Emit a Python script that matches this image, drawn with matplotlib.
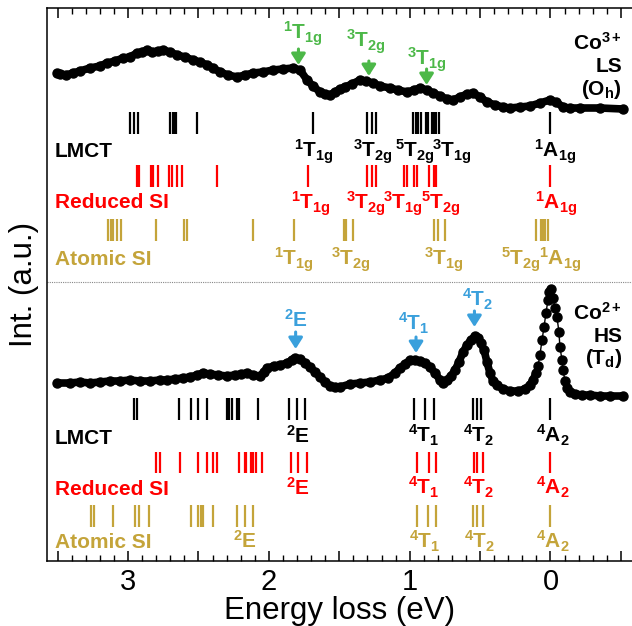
import matplotlib
matplotlib.use("Agg")
import matplotlib.pyplot as plt
import numpy as np
from matplotlib.ticker import MultipleLocator

plt.rcParams['font.family'] = ['Liberation Sans', 'DejaVu Sans']
plt.rcParams['mathtext.fontset'] = 'custom'
plt.rcParams['mathtext.rm'] = 'Liberation Sans'
plt.rcParams['mathtext.bf'] = 'Liberation Sans:bold'
plt.rcParams['mathtext.default'] = 'bf'

# ---------------- data ----------------
# Co3+ LS (Oh) spectrum (energy loss eV, intensity a.u.)
e_top = [3.505, 3.484, 3.441, 3.392, 3.342, 3.271, 3.200, 3.150, 3.093, 3.036,
         2.987, 2.937, 2.901, 2.866, 2.830, 2.788, 2.752, 2.702, 2.652, 2.596,
         2.539, 2.489, 2.439, 2.397, 2.347, 2.290, 2.226, 2.170, 2.113, 2.042,
         1.971, 1.900, 1.829, 1.779, 1.729, 1.687, 1.637, 1.602, 1.566, 1.531,
         1.495, 1.460, 1.410, 1.353, 1.310, 1.261, 1.211, 1.140, 1.083, 1.019,
         0.969, 0.927, 0.877, 0.834, 0.785, 0.735, 0.692, 0.643, 0.593, 0.550,
         0.500, 0.451, 0.394, 0.337, 0.288, 0.217, 0.146, 0.075, 0.004, -0.039,
         -0.089, -0.138, -0.209, -0.351, -0.515]
i_top = [488, 487, 486, 488, 490, 493, 495, 498, 500, 503,
         504, 508, 509, 511, 509, 510, 511, 509, 506, 504,
         501, 499, 496, 493, 489, 486, 484, 486, 488, 489,
         491, 492, 493, 491, 481, 475, 469, 467, 466, 469,
         472, 474, 477, 481, 480, 478, 475, 473, 471, 469,
         471, 473, 471, 468, 465, 462, 461, 464, 467, 468,
         464, 459, 456, 454, 453, 454, 455, 458, 461, 459,
         454, 453, 453, 453, 452]

# Co2+ HS (Td) spectrum
e_bot = [3.505, 3.413, 3.342, 3.271, 3.200, 3.129, 3.058, 2.987, 2.916, 2.845,
         2.774, 2.724, 2.667, 2.610, 2.560, 2.511, 2.468, 2.418, 2.362, 2.298,
         2.241, 2.198, 2.156, 2.113, 2.063, 2.035, 2.013, 1.964, 1.921, 1.871,
         1.836, 1.815, 1.779, 1.744, 1.708, 1.673, 1.637, 1.602, 1.566, 1.531,
         1.495, 1.424, 1.353, 1.282, 1.211, 1.154, 1.104, 1.069, 1.033, 0.998,
         0.962, 0.927, 0.891, 0.856, 0.820, 0.785, 0.764, 0.735, 0.707, 0.678,
         0.650, 0.621, 0.593, 0.565, 0.536, 0.515, 0.494, 0.472, 0.451, 0.430,
         0.408, 0.380, 0.337, 0.288, 0.231, 0.181, 0.146, 0.124, 0.103, 0.089,
         0.075, 0.060, 0.046, 0.032, 0.018, 0.011, -0.004, -0.018, -0.032, -0.046,
         -0.060, -0.067, -0.082, -0.089, -0.103, -0.117, -0.138, -0.174, -0.224, -0.281,
         -0.352, -0.423, -0.515]
i_bot = [178, 178, 179, 178, 179, 180, 180, 181, 180, 180,
         181, 181, 182, 183, 184, 186, 188, 187, 186, 185,
         186, 187, 188, 186, 185, 189, 193, 195, 196, 198,
         201, 203, 202, 198, 194, 189, 184, 179, 175, 174,
         174, 177, 178, 179, 181, 183, 188, 193, 197, 201,
         201, 200, 198, 194, 188, 181, 178, 181, 185, 191,
         199, 209, 216, 221, 225, 223, 218, 211, 199, 188,
         180, 176, 172, 170, 170, 172, 176, 181, 188, 195,
         206, 221, 234, 248, 261, 269, 272, 263, 253, 244,
         229, 214, 201, 191, 180, 173, 169, 167, 166, 166,
         165, 165, 165]

# Calculated transition energies (eV)
top_lmct = [2.99, 2.96, 2.93, 2.70, 2.68, 2.67, 2.66, 2.51, 1.69, 1.30, 1.27, 1.24,
            0.98, 0.955, 0.94, 0.92, 0.885, 0.87, 0.84, 0.83, 0.81, 0.79, 0.0]
top_red = [2.94, 2.92, 2.84, 2.82, 2.79, 2.71, 2.69, 2.65, 2.62, 2.37, 1.72,
           1.30, 1.27, 1.24, 1.04, 1.02, 0.97, 0.95, 0.86, 0.83, 0.82, 0.81, 0.0]
top_atom = [3.14, 3.12, 3.11, 3.08, 3.05, 2.80, 2.60, 2.58, 2.11, 1.82,
            1.47, 1.45, 1.40, 0.83, 0.80, 0.75, 0.10, 0.07, 0.05, 0.04, 0.02]
bot_lmct = [2.96, 2.94, 2.64, 2.55, 2.50, 2.44, 2.30, 2.28, 2.26, 2.23, 2.21, 2.08,
            1.86, 1.80, 1.74, 0.97, 0.89, 0.83, 0.55, 0.52, 0.49, 0.0]
bot_red = [2.80, 2.77, 2.63, 2.50, 2.44, 2.40, 2.37, 2.21, 2.17, 2.16, 2.13, 2.11,
           2.09, 2.05, 1.84, 1.79, 1.73, 0.95, 0.86, 0.81, 0.54, 0.52, 0.48, 0.0]
bot_atom = [3.26, 3.24, 3.11, 2.95, 2.92, 2.85, 2.55, 2.50, 2.48, 2.47, 2.40,
            2.23, 2.17, 2.11, 0.95, 0.87, 0.81, 0.55, 0.52, 0.48, 0.0]

# Term labels (text, energy of label centre)
top_lmct_terms = [("^{1}T_{1g}", 1.68), ("^{3}T_{2g}", 1.26), ("^{5}T_{2g}", 0.96),
                  ("^{3}T_{1g}", 0.70), ("^{1}A_{1g}", -0.03)]
top_red_terms = [("^{1}T_{1g}", 1.70), ("^{3}T_{2g}", 1.31), ("^{3}T_{1g}", 1.05),
                 ("^{5}T_{2g}", 0.78), ("^{1}A_{1g}", -0.04)]
top_atom_terms = [("^{1}T_{1g}", 1.82), ("^{3}T_{2g}", 1.42), ("^{3}T_{1g}", 0.76),
                  ("^{5}T_{2g}", 0.21), ("^{1}A_{1g}", -0.07)]
bot_lmct_terms = [("^{2}E", 1.79), ("^{4}T_{1}", 0.90), ("^{4}T_{2}", 0.51), ("^{4}A_{2}", -0.02)]
bot_red_terms = [("^{2}E", 1.79), ("^{4}T_{1}", 0.90), ("^{4}T_{2}", 0.51), ("^{4}A_{2}", -0.02)]
bot_atom_terms = [("^{2}E", 2.17), ("^{4}T_{1}", 0.89), ("^{4}T_{2}", 0.50), ("^{4}A_{2}", -0.02)]

# Experimental peak assignments (text, label energy, arrow energy)
top_peaks = [("^{1}T_{1g}", 1.76, 1.79), ("^{3}T_{2g}", 1.31, 1.29), ("^{3}T_{1g}", 0.88, 0.88)]
bot_peaks = [("^{2}E", 1.81, 1.81), ("^{4}T_{1}", 0.97, 0.955), ("^{4}T_{2}", 0.52, 0.54)]

# ---------------- style ----------------
BLACK = '#000000'
RED = '#ff0000'
GOLD = '#c4a43a'
GREEN = '#4cb848'
BLUE = '#3aa0dc'

fig = plt.figure(figsize=(6.32, 6.26), dpi=100)
ax = fig.add_axes([47 / 632, 65 / 626, 1 - 47 / 632, 553 / 626])
ax.set_xlim(3.576, -0.579)
ax.set_ylim(0, 553)

# spectra: dense dots merge into a thick trace; sharp elastic peak keeps separate dots
et, it = np.array(e_top), np.array(i_top)
ax.plot(et, it, color='black', lw=5.5, solid_capstyle='round', solid_joinstyle='round', zorder=3)
ax.plot(et, it, color='black', lw=0, marker='o', ms=6.5, zorder=3)

eb, ib = np.array(e_bot), np.array(i_bot)
ax.plot(eb, ib, color='black', lw=1.0, marker='o', ms=6.5, zorder=3)
left = eb >= 0.10
right = eb <= -0.11
for m in (left, right):
    ax.plot(eb[m], ib[m], color='black', lw=5.5, solid_capstyle='round',
            solid_joinstyle='round', zorder=3)

# stick rows
def sticks(energies, y0, y1, color):
    ax.vlines(energies, y0, y1, color=color, lw=1.6)

sticks(top_lmct, 427, 449, BLACK)
sticks(top_red, 374, 396, RED)
sticks(top_atom, 320, 342, GOLD)
sticks(bot_lmct, 141, 163, BLACK)
sticks(bot_red, 88, 109, RED)
sticks(bot_atom, 34, 56, GOLD)

FS = 15
def row_label(txt, y, color):
    ax.text(3.52, y, txt, color=color, fontsize=FS, fontweight='bold', ha='left', va='baseline')

row_label('LMCT', 404, BLACK)
row_label('Reduced SI', 353, RED)
row_label('Atomic SI', 296, GOLD)
row_label('LMCT', 117, BLACK)
row_label('Reduced SI', 66, RED)
row_label('Atomic SI', 13, GOLD)

def terms(lst, y, color):
    for t, e in lst:
        ax.text(e, y, '$' + t + '$', color=color, fontsize=FS, ha='center', va='baseline')

terms(top_lmct_terms, 404, BLACK)
terms(top_red_terms, 352, RED)
terms(top_atom_terms, 296, GOLD)
terms(bot_lmct_terms, 118, BLACK)
terms(bot_red_terms, 66, RED)
terms(bot_atom_terms, 13, GOLD)

# peak arrows
def peaks(lst, ylab, yarr, color):
    for (t, el, ea), yl, (ya0, ya1) in zip(lst, ylab, yarr):
        ax.text(el, yl, '$' + t + '$', color=color, fontsize=FS, ha='center', va='baseline')
        ax.annotate('', xy=(ea, ya1), xytext=(ea, ya0),
                    arrowprops=dict(arrowstyle='-|>,head_length=0.55,head_width=0.35',
                                    color=color, lw=2.2, shrinkA=0, shrinkB=0,
                                    mutation_scale=12))

peaks(top_peaks, [521, 513, 496], [(512, 496), (500, 485), (492, 476)], GREEN)
peaks(bot_peaks, [234, 231, 254], [(229, 212), (224, 208), (250, 234)], BLUE)

# side labels
XR = -0.51
for txt, y in (('Co$^{3+}$', 511), ('LS', 489), ('(O$_{h}$)', 466),
               ('Co$^{2+}$', 241), ('HS', 219), ('(T$_{d}$)', 197)):
    ax.text(XR, y, txt, fontsize=FS, fontweight='bold', ha='right', va='baseline')

# separator
ax.axhline(279, color='#888888', lw=0.8, ls=(0, (1, 1)))

# axes styling
ax.spines['right'].set_visible(False)
for s in ('left', 'top', 'bottom'):
    ax.spines[s].set_linewidth(1.1)
ax.set_xticks([3.5, 3, 2.5, 2, 1.5, 1, 0.5, 0, -0.5])
ax.set_xticklabels(['', '3', '', '2', '', '1', '', '0', ''])
ax.xaxis.set_minor_locator(MultipleLocator(0.1))
ax.tick_params(axis='x', which='major', direction='in', top=True, length=7, width=1.1,
               labelsize=21, pad=5)
ax.tick_params(axis='x', which='minor', direction='in', top=True, length=4, width=1.0)
ax.set_yticks([])
ax.set_xlabel('Energy loss (eV)', fontsize=22.5, labelpad=0)
ax.set_ylabel('Int. (a.u.)', fontsize=22.5, labelpad=6)

fig.savefig('out.png', dpi=100)
